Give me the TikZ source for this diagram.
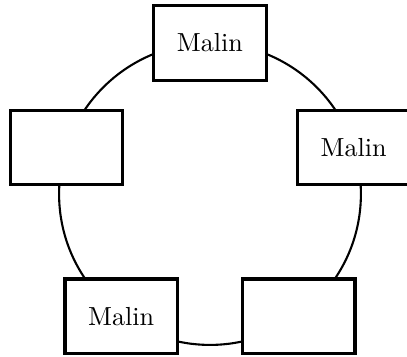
\documentclass[tikz,border=0pt]{standalone}
\begin{document}
\begin{tikzpicture}[x=0.383pt,y=-0.383pt,
  ring/.style={thick},
  box/.style={draw,very thick,fill=white,minimum width=43pt,minimum height=28.5pt,inner sep=0pt}]
\useasboundingbox (0,0) rectangle (407,357);
\coordinate (c) at (210,194);
\draw[ring] (c) circle[radius=57.8pt];
\node[box] (n1) at (210,43) {Malin};
\node[box] (n2) at (66.4,147.3) {};
\node[box] (n3) at (121.2,316.2) {Malin};
\node[box] (n4) at (298.8,316.2) {};
\node[box] (n5) at (353.6,147.3) {Malin};
\end{tikzpicture}
\end{document}
